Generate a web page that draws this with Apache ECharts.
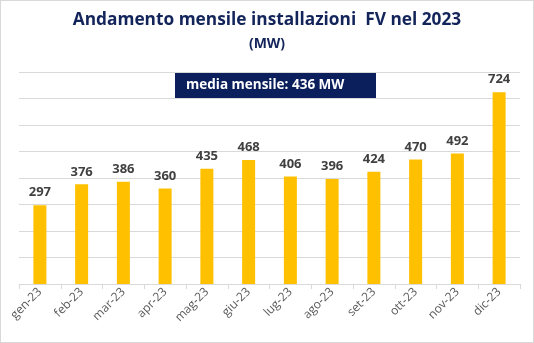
<!DOCTYPE html>
<html><head><meta charset="utf-8">
<script src="https://cdn.jsdelivr.net/npm/echarts@6/dist/echarts.min.js"></script>
<style>html,body{margin:0;padding:0;background:#fff;}#c{width:534px;height:343px;box-sizing:border-box;border:1px solid #d9d9d9;}</style>
</head><body><div id="c"></div>
<script>
const categories = ['gen-23','feb-23','mar-23','apr-23','mag-23','giu-23','lug-23','ago-23','set-23','ott-23','nov-23','dic-23'];
const values = [297,376,386,360,435,468,406,396,424,470,492,724];
const titleText = 'Andamento mensile installazioni  FV nel 2023';
const subtitleText = '(MW)';
const noteText = 'media mensile: 436 MW';

const chart = echarts.init(document.getElementById('c'), null, {renderer:'canvas'});
chart.setOption({
  animation:false,
  title:[
    {text:titleText, left:'center', top:6,
      textStyle:{fontFamily:'Open Sans', fontWeight:'bold', fontSize:17.3, color:'#13245A'}},
    {text:subtitleText, left:'center', top:31,
      textStyle:{fontFamily:'Open Sans', fontWeight:'bold', fontSize:14, color:'#13245A'}}
  ],
  grid:{left:18, right:13, top:71, bottom:58},
  xAxis:{type:'category', data:categories,
    axisLine:{lineStyle:{color:'#d9d9d9'}},
    axisTick:{show:true, length:5, lineStyle:{color:'#d9d9d9'}},
    axisLabel:{rotate:45, color:'#595959', fontFamily:'Open Sans', fontSize:12, margin:6}},
  yAxis:{type:'value', min:0, max:800, interval:100,
    axisLabel:{show:false}, axisLine:{show:false}, axisTick:{show:false},
    splitLine:{lineStyle:{color:'#d9d9d9'}}},
  series:[{type:'bar', data:values, barWidth:13, itemStyle:{color:'#FFC000'},
    label:{show:true, position:'top', distance:6, color:'#404040', fontFamily:'Open Sans', fontWeight:'bold', fontSize:13}}],
  graphic:[{type:'group', left:174, top:72, children:[
    {type:'rect', shape:{x:0,y:0,width:201,height:25}, style:{fill:'#0B1F5C'}},
    {type:'text', x:11, y:12.5, style:{text:noteText, fill:'#fff', font:'bold 13.5px "Open Sans"', textVerticalAlign:'middle'}}
  ]}]
});
</script></body></html>
